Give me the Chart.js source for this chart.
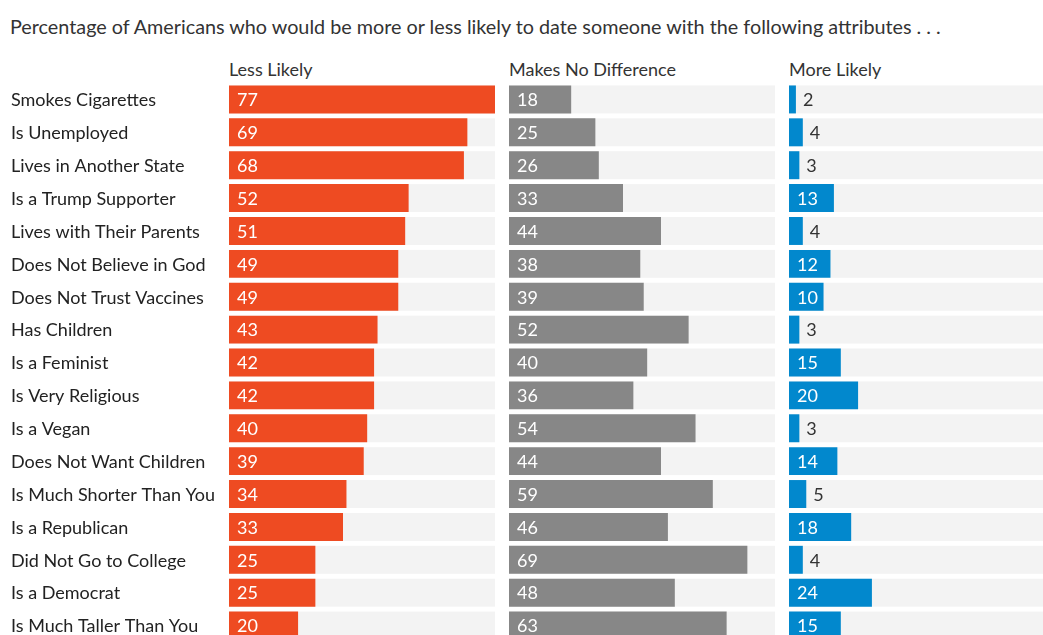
<!DOCTYPE html>
<html>
<head>
<meta charset="utf-8">
<script src="https://cdn.jsdelivr.net/npm/chart.js@4"></script>
<style>
  html, body { margin: 0; padding: 0; background: #fff; width: 1043px; height: 635px; overflow: hidden; }
  body { position: relative; font-family: Lato, "Open Sans", sans-serif; color: #333; }
  .title { position: absolute; left: 10px; top: 14px; font-size: 19.8px; white-space: nowrap; color: #333; }
  .hdr { position: absolute; top: 58px; font-size: 18px; color: #333; white-space: nowrap; }
  .cv { position: absolute; top: 83px; }
</style>
</head>
<body>
<div class="title">Percentage of Americans who would be more or less likely to date someone with the following attributes . . .</div>
<div class="hdr" style="left:229px">Less Likely</div>
<div class="hdr" style="left:509px">Makes No Difference</div>
<div class="hdr" style="left:789px">More Likely</div>
<canvas id="c1" class="cv" style="left:0px" width="495" height="559"></canvas>
<canvas id="c2" class="cv" style="left:509px" width="266" height="559"></canvas>
<canvas id="c3" class="cv" style="left:789px" width="266" height="559"></canvas>
<script>
const categories = [
  "Smokes Cigarettes", "Is Unemployed", "Lives in Another State", "Is a Trump Supporter",
  "Lives with Their Parents", "Does Not Believe in God", "Does Not Trust Vaccines",
  "Has Children", "Is a Feminist", "Is Very Religious", "Is a Vegan",
  "Does Not Want Children", "Is Much Shorter Than You", "Is a Republican",
  "Did Not Go to College", "Is a Democrat", "Is Much Taller Than You"
];
const lessLikely   = [77, 69, 68, 52, 51, 49, 49, 43, 42, 42, 40, 39, 34, 33, 25, 25, 20];
const noDifference = [18, 25, 26, 33, 44, 38, 39, 52, 40, 36, 54, 44, 59, 46, 69, 48, 63];
const moreLikely   = [2, 4, 3, 13, 4, 12, 10, 3, 15, 20, 3, 14, 5, 18, 4, 24, 15];
const scaleMax = 77;

const FONT = "Lato, 'Open Sans', sans-serif";

const trackPlugin = {
  id: 'track',
  beforeDatasetsDraw(chart) {
    const ctx = chart.ctx, area = chart.chartArea;
    const meta = chart.getDatasetMeta(0);
    ctx.save();
    ctx.fillStyle = '#f3f3f3';
    meta.data.forEach(bar => {
      const h = bar.height;
      ctx.fillRect(area.left, bar.y - h / 2, area.right - area.left, h);
    });
    ctx.restore();
  }
};

const valuePlugin = {
  id: 'values',
  afterDatasetsDraw(chart) {
    const ctx = chart.ctx;
    const meta = chart.getDatasetMeta(0);
    const data = chart.data.datasets[0].data;
    ctx.save();
    ctx.font = '18px ' + FONT;
    ctx.textBaseline = 'middle';
    ctx.textAlign = 'left';
    meta.data.forEach((bar, i) => {
      const v = data[i];
      if (v >= 10) {
        ctx.fillStyle = '#ffffff';
        ctx.fillText(String(v), bar.base + 8, bar.y + 1);
      } else {
        ctx.fillStyle = '#333333';
        ctx.fillText(String(v), bar.x + 7, bar.y + 1);
      }
    });
    ctx.restore();
  }
};

const categoryLabelPlugin = {
  id: 'catLabels',
  afterDraw(chart, args, opts) {
    if (!opts || !opts.show) return;
    const ctx = chart.ctx;
    const yScale = chart.scales.y;
    ctx.save();
    ctx.font = '18px ' + FONT;
    ctx.fillStyle = '#222222';
    ctx.textBaseline = 'middle';
    ctx.textAlign = 'left';
    chart.data.labels.forEach((lab, i) => {
      ctx.fillText(lab, 11, yScale.getPixelForValue(i) + 1);
    });
    ctx.restore();
  }
};

function makeChart(id, values, color, showLabels) {
  return new Chart(document.getElementById(id), {
    type: 'bar',
    data: {
      labels: categories,
      datasets: [{
        data: values,
        backgroundColor: color,
        borderWidth: 0,
        barPercentage: 0.85,
        categoryPercentage: 1.0
      }]
    },
    options: {
      indexAxis: 'y',
      responsive: false,
      animation: false,
      devicePixelRatio: 1,
      layout: { padding: { left: showLabels ? 229 : 0, right: 0, top: 0, bottom: 0 } },
      plugins: {
        legend: { display: false }, tooltip: { enabled: false }, title: { display: false },
        catLabels: { show: showLabels }
      },
      scales: {
        x: { display: false, min: 0, max: scaleMax },
        y: { display: false }
      }
    },
    plugins: [trackPlugin, valuePlugin, categoryLabelPlugin]
  });
}

makeChart('c1', lessLikely, '#ee4b22', true);
makeChart('c2', noDifference, '#878787', false);
makeChart('c3', moreLikely, '#0288cd', false);
</script>
</body>
</html>
